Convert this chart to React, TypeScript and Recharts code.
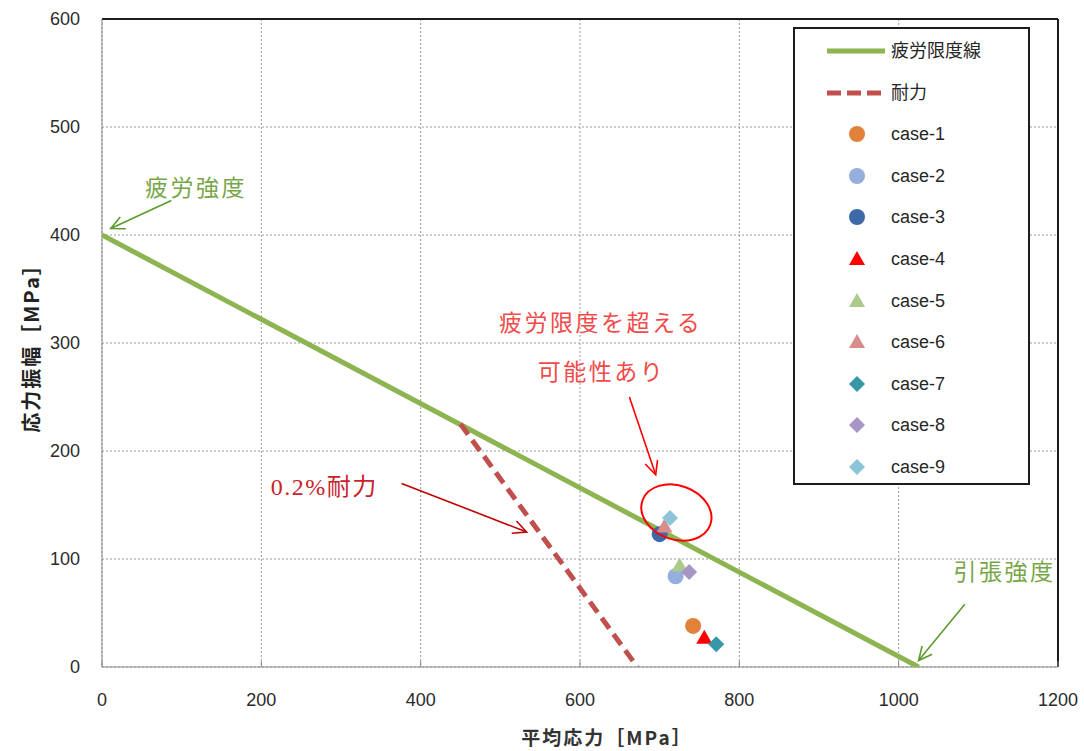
import {
  ScatterChart,
  Scatter,
  XAxis,
  YAxis,
  CartesianGrid,
  ReferenceLine,
  ReferenceDot,
  Legend,
} from "recharts";

document.body.style.margin = "0";

const xTicks = [0, 200, 400, 600, 800, 1000, 1200];
const yTicks = [0, 100, 200, 300, 400, 500, 600];

// 疲労限度線 (修正グッドマン線) と 0.2%耐力線
const fatigueLimit = [
  { x: 0, y: 400 },
  { x: 1025, y: 0 },
];
const proofStress = [
  { x: 450, y: 225 },
  { x: 672, y: 0 },
];

const caseNames = ["case-1", "case-2", "case-3", "case-4", "case-5", "case-6", "case-7", "case-8", "case-9"];
const caseMean = [742, 720, 700, 756, 725, 706, 771, 737, 713];
const caseAmp = [38, 84, 123, 27, 94, 130, 21, 88, 138];
const caseColors = ["#E2823A", "#95AEDB", "#3E69A9", "#FF0000", "#ABCB8C", "#D98C8C", "#3796A8", "#A596C6", "#8EC4D7"];
const caseShapes = ["circle", "circle", "circle", "triangle", "triangle", "triangle", "diamond", "diamond", "diamond"];

// 注記（データ座標）
const noteTexts = [
  { text: "疲労強度", x: 118, y: 445 },
  { text: "0.2%耐力", x: 279, y: 167 },
  { text: "疲労限度を超える", x: 626, y: 320 },
  { text: "可能性あり", x: 627, y: 275 },
  { text: "引張強度", x: 1133, y: 90 },
];
const noteColors = ["#77A648", "#C8222C", "#F24A4A", "#F24A4A", "#77A648"];
const noteArrows = [
  { x1: 87, y1: 432, x2: 11, y2: 406 },
  { x1: 376, y1: 170, x2: 533, y2: 125 },
  { x1: 662, y1: 250, x2: 695, y2: 178 },
  { x1: 1083, y1: 58, x2: 1025, y2: 6 },
];
const arrowColors = ["#5B9B2E", "#C00000", "#FF0000", "#5B9B2E"];
const ellipseCenter = { x: 721, y: 143 };

const cases = caseNames.map((name, i) => ({
  name,
  color: caseColors[i],
  shape: caseShapes[i],
  data: [{ x: caseMean[i], y: caseAmp[i] }],
}));

const drawMarker = (kind: string, cx: number, cy: number, color: string) => {
  if (kind === "circle") return <circle cx={cx} cy={cy} r={8} fill={color} />;
  if (kind === "triangle")
    return <polygon points={`${cx},${cy - 8} ${cx + 8},${cy + 6} ${cx - 8},${cy + 6}`} fill={color} />;
  return <polygon points={`${cx},${cy - 8} ${cx + 8},${cy} ${cx},${cy + 8} ${cx - 8},${cy}`} fill={color} />;
};

const arrowShape = (color: string) => (p: any) => {
  const { x1, y1, x2, y2 } = p;
  const a = Math.atan2(y2 - y1, x2 - x1);
  const len = 15;
  const h1 = [x2 - len * Math.cos(a - 0.45), y2 - len * Math.sin(a - 0.45)];
  const h2 = [x2 - len * Math.cos(a + 0.45), y2 - len * Math.sin(a + 0.45)];
  return (
    <g stroke={color} strokeWidth={1.6} fill="none">
      <line x1={x1} y1={y1} x2={x2} y2={y2} />
      <polyline points={`${h1[0]},${h1[1]} ${x2},${y2} ${h2[0]},${h2[1]}`} />
    </g>
  );
};

const noteShape = (text: string, color: string, serif: boolean) => (p: any) => (
  <text
    x={p.cx}
    y={p.cy}
    fill={color}
    fontSize={serif ? 24 : 23}
    textAnchor="middle"
    dominantBaseline="central"
    fontFamily={serif ? "'Liberation Serif', 'Noto Sans CJK JP'" : "'Noto Sans CJK JP'"}
    letterSpacing={serif ? 1.5 : 2.5}
  >
    {text}
  </text>
);

const ellipseShape = (p: any) => (
  <ellipse
    cx={p.cx}
    cy={p.cy}
    rx={36}
    ry={27}
    transform={`rotate(20, ${p.cx}, ${p.cy})`}
    fill="none"
    stroke="#FF0000"
    strokeWidth={2}
  />
);

const legendRowTop = (i: number) => 22 + i * 41.6;

const renderLegend = () => (
  <div
    style={{
      boxSizing: "border-box",
      width: 237,
      height: 458,
      border: "2.5px solid #1c1c1c",
      background: "#fff",
      position: "relative",
      fontFamily: "'Liberation Sans', 'Noto Sans CJK JP'",
      fontSize: 18,
      color: "#262626",
    }}
  >
    {[
      { label: "疲労限度線", kind: "line" },
      { label: "耐力", kind: "dash" },
      ...cases.map((c) => ({ label: c.name, kind: c.shape, color: c.color })),
    ].map((row: any, i) => (
      <div
        key={row.label}
        style={{ position: "absolute", left: 0, top: legendRowTop(i) - 14, height: 28, width: "100%" }}
      >
        <svg width={92} height={28} style={{ position: "absolute", left: 0, top: 0 }}>
          {row.kind === "line" && <line x1={32} y1={14} x2={90} y2={14} stroke="#8CB450" strokeWidth={5} />}
          {row.kind === "dash" && (
            <line x1={32} y1={14} x2={90} y2={14} stroke="#C0504D" strokeWidth={5} strokeDasharray="14 6" />
          )}
          {row.kind !== "line" && row.kind !== "dash" && drawMarker(row.kind, 62, 14, row.color)}
        </svg>
        <span style={{ position: "absolute", left: 96, top: 2, lineHeight: "24px" }}>{row.label}</span>
      </div>
    ))}
  </div>
);

export default function App() {
  return (
    <ScatterChart width={1084} height={751} margin={{ top: 19, right: 26, bottom: 54, left: 0 }}>
      <CartesianGrid stroke="#9a9a9a" strokeDasharray="2 2" />
      <XAxis
        type="number"
        dataKey="x"
        domain={[0, 1200]}
        ticks={xTicks}
        allowDataOverflow
        stroke="#8a8a8a"
        tickSize={-6}
        tickMargin={32}
        tick={{ fill: "#2b2b2b", fontSize: 18, fontFamily: "'Liberation Sans'" }}
        label={{
          content: (p: any) => (
            <text
              x={607}
              y={p.viewBox.y + 69}
              textAnchor="middle"
              dominantBaseline="central"
              fontSize={19}
              letterSpacing={2}
              fontWeight={700}
              fill="#333"
              fontFamily="'Noto Sans CJK JP'"
            >
              平均応力［MPa］
            </text>
          ),
        }}
      />
      <YAxis
        type="number"
        dataKey="y"
        domain={[0, 600]}
        ticks={yTicks}
        allowDataOverflow
        width={102}
        stroke="#8a8a8a"
        tickLine={false}
        tickSize={0}
        tickMargin={22}
        tick={{ fill: "#2b2b2b", fontSize: 18, fontFamily: "'Liberation Sans'" }}
        label={{
          content: (p: any) => {
            const cy = p.viewBox.y + p.viewBox.height / 2;
            return (
              <text
                x={30}
                y={cy}
                transform={`rotate(-90, 30, ${cy})`}
                textAnchor="middle"
                dominantBaseline="central"
                fontSize={20}
                letterSpacing={2}
                fontWeight={700}
                fill="#222"
                fontFamily="'Noto Sans CJK JP'"
              >
                応力振幅［MPa］
              </text>
            );
          },
        }}
      />
      <ReferenceLine y={600} stroke="#1c1c1c" strokeWidth={2} />
      <ReferenceLine x={1200} stroke="#1c1c1c" strokeWidth={2} />

      <Scatter
        name="疲労限度線"
        data={fatigueLimit}
        line={{ stroke: "#8CB450", strokeWidth: 5 }}
        lineType="joint"
        shape={() => <g />}
        isAnimationActive={false}
      />
      <Scatter
        name="耐力"
        data={proofStress}
        line={{ stroke: "#C0504D", strokeWidth: 5, strokeDasharray: "13 7" }}
        lineType="joint"
        shape={() => <g />}
        isAnimationActive={false}
      />
      {cases.map((c) => (
        <Scatter
          key={c.name}
          name={c.name}
          data={c.data}
          shape={(p: any) => drawMarker(c.shape, p.cx, p.cy, c.color)}
          isAnimationActive={false}
        />
      ))}

      {noteArrows.map((a, i) => (
        <ReferenceLine
          key={`arrow-${i}`}
          segment={[
            { x: a.x1, y: a.y1 },
            { x: a.x2, y: a.y2 },
          ]}
          ifOverflow="visible"
          shape={arrowShape(arrowColors[i])}
        />
      ))}
      {noteTexts.map((n, i) => (
        <ReferenceDot
          key={`note-${i}`}
          x={n.x}
          y={n.y}
          r={0}
          ifOverflow="visible"
          shape={noteShape(n.text, noteColors[i], i === 1)}
        />
      ))}
      <ReferenceDot x={ellipseCenter.x} y={ellipseCenter.y} r={0} ifOverflow="visible" shape={ellipseShape} />

      <Legend
        layout="horizontal"
        verticalAlign="middle"
        align="center"
        content={renderLegend}
        wrapperStyle={{ position: "absolute", left: 793, top: 27, width: 237, height: 458 }}
      />
    </ScatterChart>
  );
}
